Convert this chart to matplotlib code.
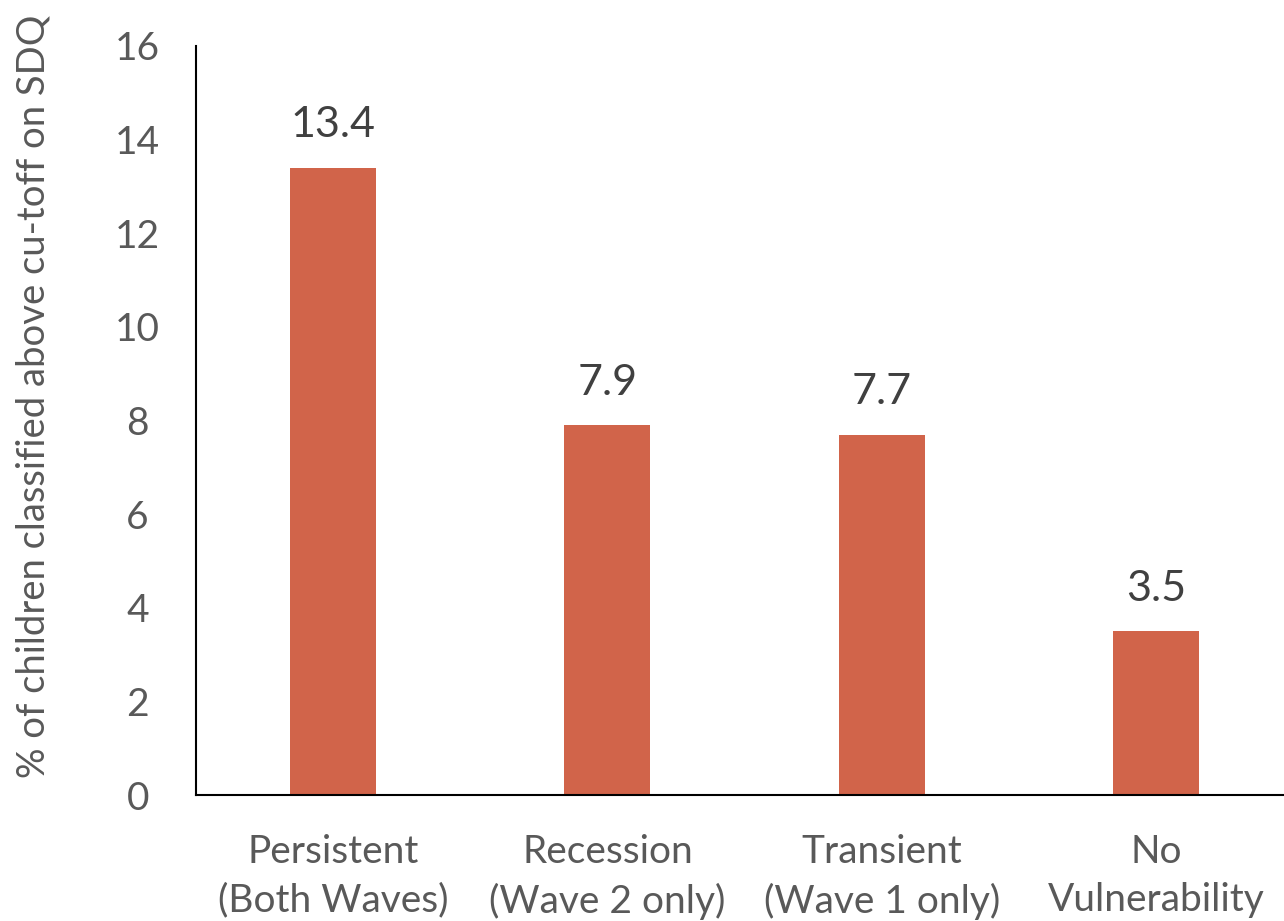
import numpy as np
import matplotlib.pyplot as plt

# SDQ results by vulnerability group
groups = ['Persistent\n(Both Waves)', 'Recession\n(Wave 2 only)',
          'Transient\n(Wave 1 only)', 'No\nVulnerability']
pct_above = [13.4, 7.9, 7.7, 3.5]
y_ticks = [0, 2, 4, 6, 8, 10, 12, 14, 16]

bar_color = '#D1644A'
tick_grey = '#595959'
label_dark = '#404040'

plt.rcParams['font.family'] = ['Lato', 'DejaVu Sans']

fig = plt.figure(figsize=(12.84, 9.21), dpi=100, facecolor='white')
ax = fig.add_axes([196/1284, 126/921, 1088/1284, 749/921])

x = np.arange(len(groups))
bars = ax.bar(x, pct_above, width=0.314, color=bar_color, zorder=2)

for xi, v in zip(x, pct_above):
    ax.text(xi, v + 0.5, f'{v:.1f}', ha='center', va='bottom',
            fontsize=31, color=label_dark)

ax.set_xlim(-0.5, 3.5 - 9/274)
ax.set_ylim(0, 16)
ax.set_yticks(y_ticks)
ax.set_yticklabels([str(t) for t in y_ticks])
ax.set_xticks(x)
ax.set_xticklabels(groups, linespacing=1.42)

ax.tick_params(axis='y', length=0, pad=42, labelsize=28, labelcolor=tick_grey)
ax.tick_params(axis='x', length=0, pad=28, labelsize=28, labelcolor=tick_grey)
for lab in ax.get_yticklabels():
    lab.set_horizontalalignment('center')

for side in ['top', 'right']:
    ax.spines[side].set_visible(False)
for side in ['left', 'bottom']:
    ax.spines[side].set_linewidth(1.5)
    ax.spines[side].set_color('black')

fig.text(34/1284, 1 - 396/921, '% of children classified above cu-toff on SDQ',
         rotation=90, ha='center', va='center', fontsize=27.5, color=tick_grey)

fig.savefig('out.png', dpi=100, facecolor='white')
